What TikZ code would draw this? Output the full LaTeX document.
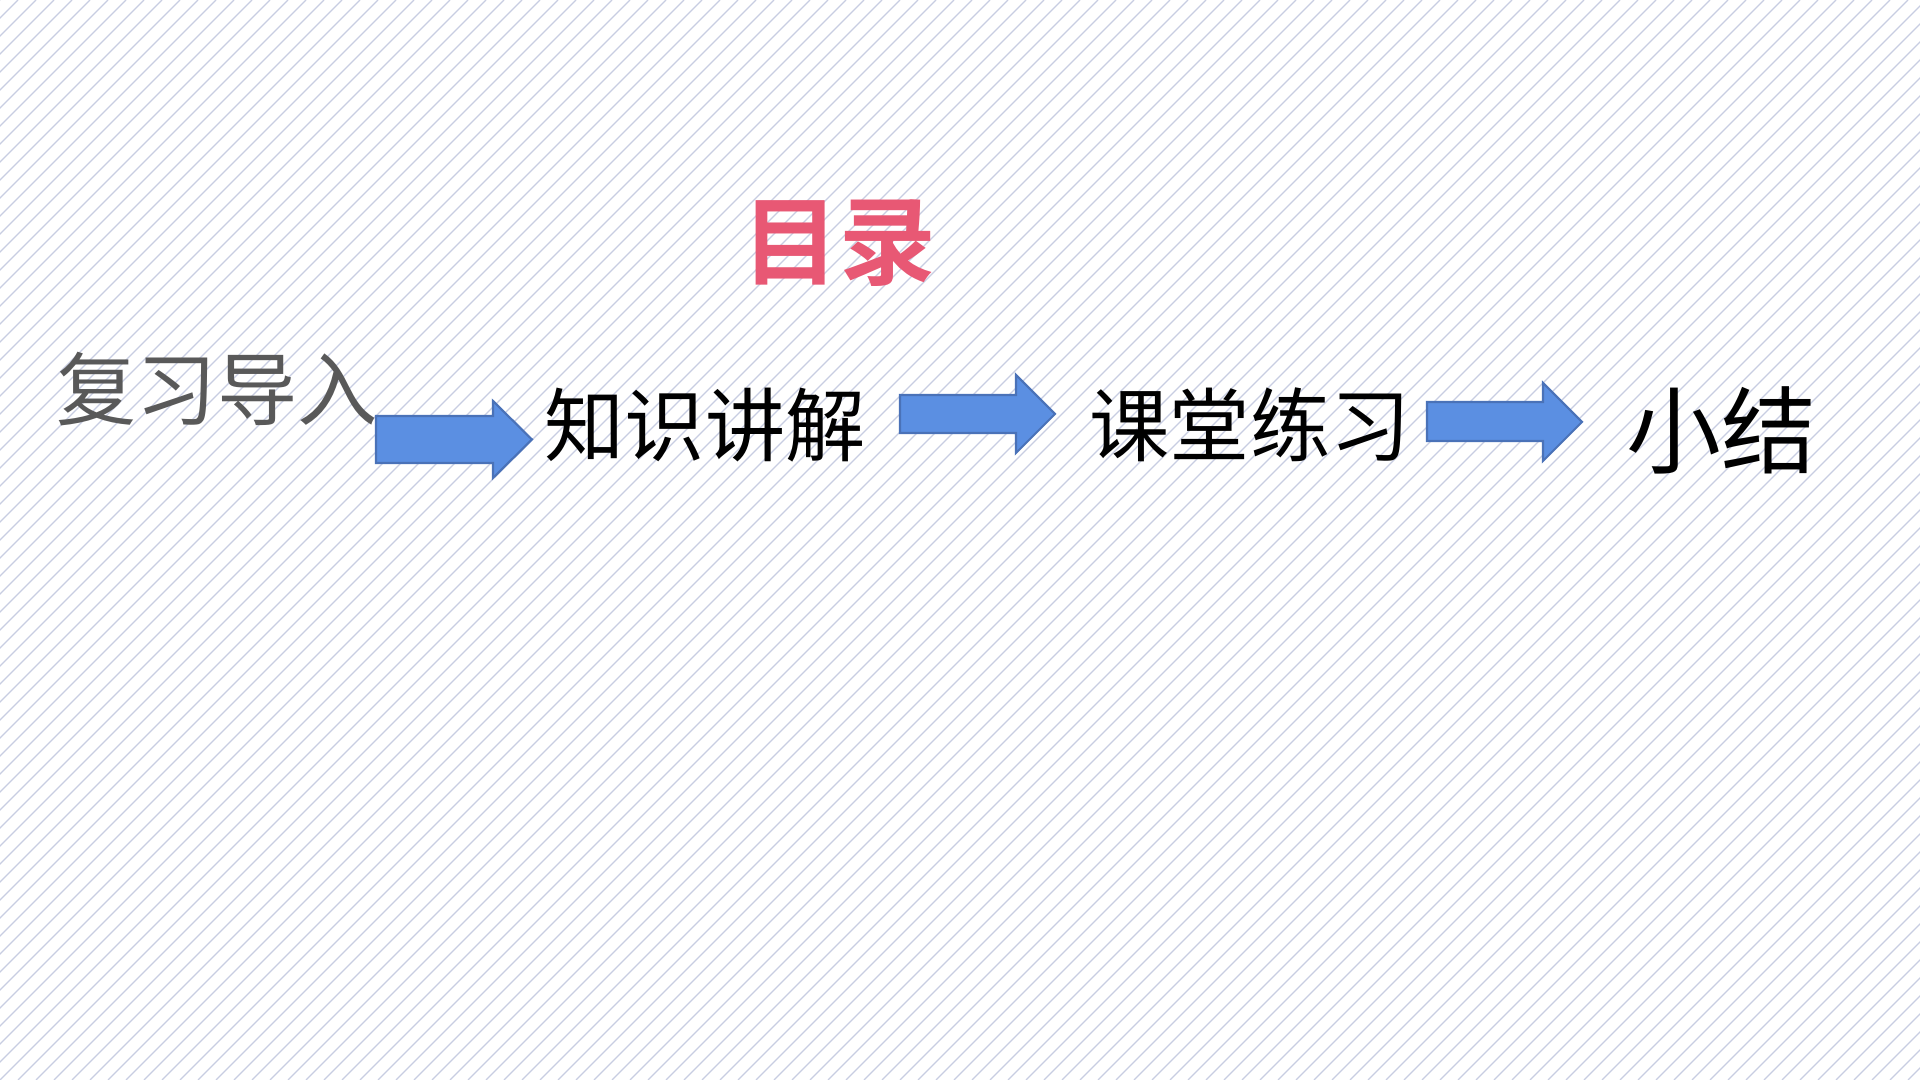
\documentclass[tikz,border=0pt]{standalone}
\usepackage{fontspec}
\usepackage{tikz}
\usetikzlibrary{positioning}
\newfontfamily\cjk[BoldFont={Noto Sans CJK SC Bold}]{Noto Sans CJK SC}
\definecolor{hatch}{HTML}{C8CDE2}
\definecolor{titlered}{HTML}{E85874}
\definecolor{textgray}{HTML}{595959}
\definecolor{arrowfill}{HTML}{5B8FE2}
\definecolor{arrowline}{HTML}{4A72B8}

\begin{document}
\begin{tikzpicture}[
  x=0.01cm, y=-0.01cm,
  every node/.style={inner sep=0pt,anchor=center},
  hatchline/.style={draw=hatch,line width=0.35pt},
  title/.style={font=\cjk\bfseries\fontsize{27.5}{32}\selectfont,text=titlered},
  item/.style={font=\cjk\fontsize{22.8}{27}\selectfont,text=black},
  blockarrow/.style={fill=arrowfill,draw=arrowline,line width=0.6pt,line join=miter}
]
\useasboundingbox (0,0) rectangle (1920,1080);
% striped background
\begin{scope}
  \clip (0,0) rectangle (1920,1080);
  \fill[white] (0,0) rectangle (1920,1080);
  \foreach \x in {-1098,-1080,...,1920}
    \draw[hatchline] (\x,1080) -- ++(1080,-1080);
\end{scope}
\node[title] (mulu) at (839,243) {目录};
\node[item,text=textgray] (review) at (217,389) {复习导入};
\node[item] (explain) at (705,425) {知识讲解};
\node[item] (practice) at (1250,425) {课堂练习};
\node[item,font=\cjk\fontsize{27}{32}\selectfont] (summary) at (1721,430) {小结};
% block arrows
\draw[blockarrow] (376,416) -- (493,416) -- (493,401) -- (532,439.5) -- (493,478)
  -- (493,463) -- (376,463) -- cycle;
\draw[blockarrow] (900,395) -- (1016,395) -- (1016,375) -- (1055,414) -- (1016,453)
  -- (1016,433) -- (900,433) -- cycle;
\draw[blockarrow] (1427,402) -- (1543,402) -- (1543,383) -- (1582,422) -- (1543,461)
  -- (1543,441) -- (1427,441) -- cycle;
\end{tikzpicture}
\end{document}
